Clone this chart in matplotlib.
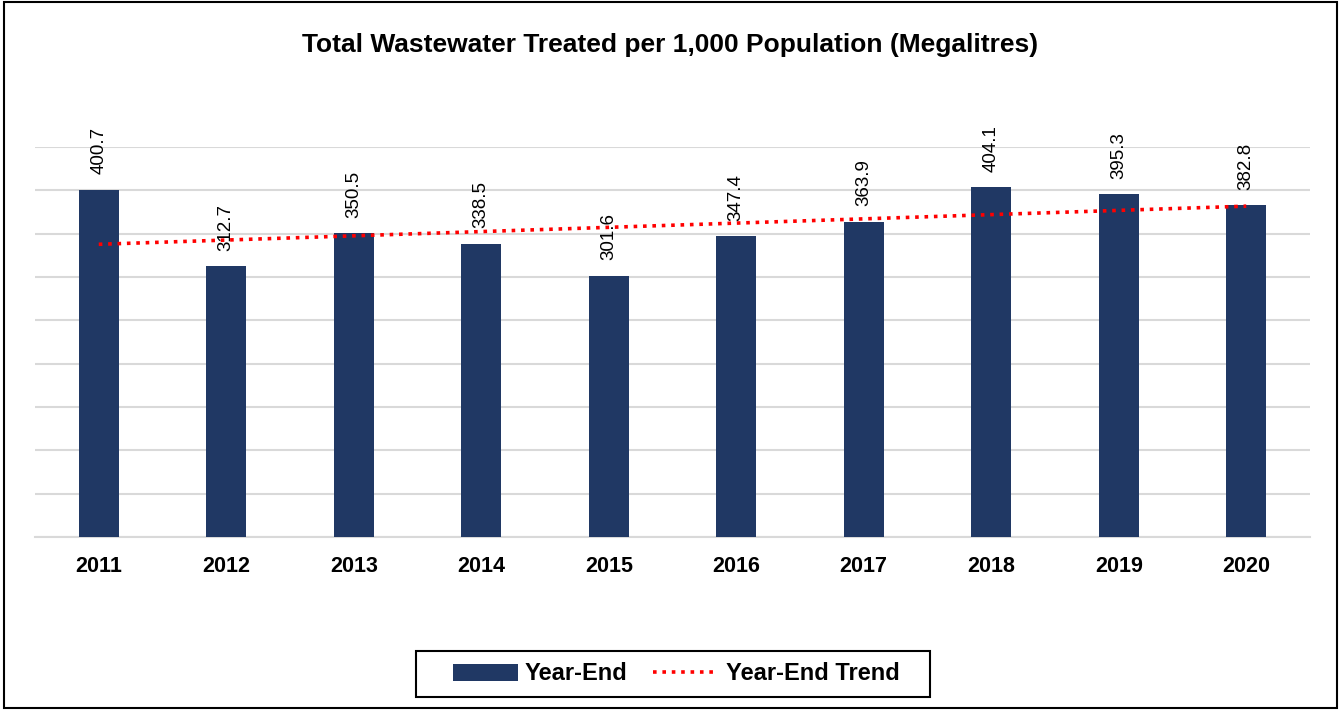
import numpy as np
import matplotlib
matplotlib.use("Agg")
import matplotlib.pyplot as plt
from matplotlib.patches import Rectangle

plt.rcParams['font.family'] = ['Liberation Sans', 'DejaVu Sans']

years = ["2011", "2012", "2013", "2014", "2015", "2016", "2017", "2018", "2019", "2020"]
values = [400.7, 312.7, 350.5, 338.5, 301.6, 347.4, 363.9, 404.1, 395.3, 382.8]
title = "Total Wastewater Treated per 1,000 Population (Megalitres)"
bar_color = "#203864"

W, H = 1341, 710
fig = plt.figure(figsize=(W / 100, H / 100), dpi=100)
ax = fig.add_axes([35/W, 1 - 537/H, (1310-35)/W, (537-147)/H])

x = np.arange(len(years))
bars = ax.bar(x, values, width=0.31, color=bar_color, zorder=3, label="Year-End")

coef = np.polyfit(x, values, 1)
trend = np.polyval(coef, x)
line, = ax.plot(x, trend, color="#FF0000", linestyle=(0, (1, 1.6)), linewidth=2.6,
                zorder=4, label="Year-End Trend")

for xi, v in zip(x, values):
    ax.annotate(f"{v:.1f}", (xi, v), xytext=(0, 11), textcoords="offset points",
                rotation=90, ha="center", va="bottom", fontsize=13.5, zorder=5)

ax.set_xlim(-0.5, len(years) - 0.5)
ax.set_ylim(0, 450)
ax.set_yticks(np.arange(0, 451, 50))
ax.yaxis.grid(True, color="#D9D9D9", linewidth=1.5, zorder=0)
ax.set_yticklabels([])
ax.tick_params(axis="y", length=0)
ax.set_xticks(x)
ax.set_xticklabels(years, fontsize=15.5, fontweight="bold")
ax.tick_params(axis="x", length=0, pad=14)
for s in ["top", "right", "left"]:
    ax.spines[s].set_visible(False)
ax.spines["bottom"].set_color("#D9D9D9")
ax.spines["bottom"].set_linewidth(1.5)

fig.text(0.5, 1 - 45/H, title, ha="center", va="center", fontsize=19, fontweight="bold")

leg = fig.legend([bars, line], ["Year-End", "Year-End Trend"], loc="center",
                 bbox_to_anchor=(676/W, 1 - 674/H), ncol=2,
                 frameon=False, prop={"weight": "bold", "size": 17},
                 handlelength=2.75, handletextpad=0.3, columnspacing=1.1,
                 borderpad=0.3, borderaxespad=0)

# legend frame
fig.patches.append(Rectangle((416/W, 1 - 697/H), (930-416)/W, 46/H,
                             transform=fig.transFigure, fill=False,
                             edgecolor="black", linewidth=1.5, zorder=5))

fig.patches.append(Rectangle((0.003, 0.003), 0.994, 0.994, transform=fig.transFigure,
                             fill=False, edgecolor="black", linewidth=1.5))

fig.savefig("out.png", dpi=100)
